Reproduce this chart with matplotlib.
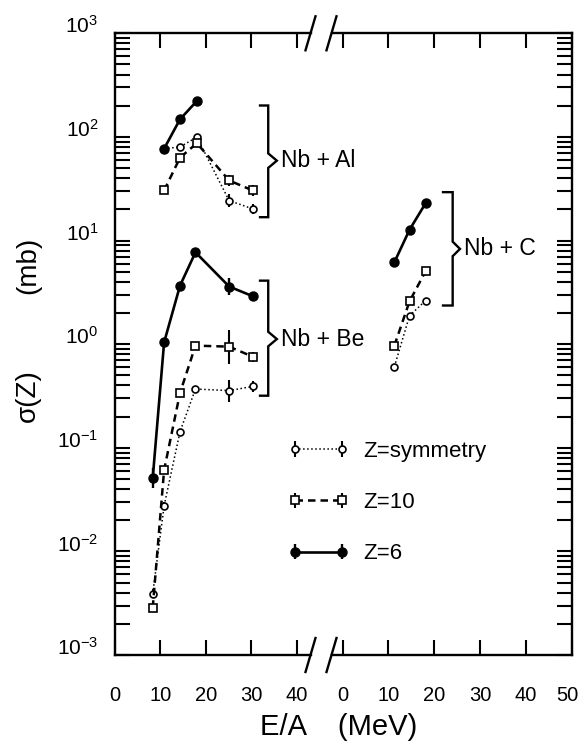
import numpy as np
import matplotlib
matplotlib.use("Agg")
import matplotlib.pyplot as plt
from matplotlib.lines import Line2D
from matplotlib.legend_handler import HandlerErrorbar
from matplotlib.container import ErrorbarContainer
from matplotlib.ticker import FixedLocator, LogLocator, NullFormatter
from matplotlib.transforms import ScaledTranslation

plt.rcParams['font.family'] = ['Liberation Sans', 'DejaVu Sans']
plt.rcParams['mathtext.fontset'] = 'custom'
plt.rcParams['mathtext.rm'] = 'Liberation Sans'

# Nb + Be (left energy scale)
e_be = [8.3, 10.8, 14.3, 17.7, 25.1, 30.3]
be_z6 = [0.051, 1.04, 3.67, 7.7, 3.6, 2.9]
be_z10 = [0.00286, 0.061, 0.338, 0.968, 0.946, 0.757]
be_sym = [0.0039, 0.0275, 0.143, 0.369, 0.356, 0.391]
be_z6_err = [1.25, 1.0, 1.0, 1.0, 1.21, 1.08]
be_z10_err = [1.0, 1.0, 1.0, 1.0, 1.46, 1.12]
be_sym_err = [1.1, 1.1, 1.06, 1.0, 1.28, 1.14]

# Nb + Al (left energy scale)
e_al = [10.8, 14.3, 18.0, 25.1, 30.3]
al_z6 = [77, 148, 222]
al_z10 = [30.4, 63, 87, 38, 30.4]
al_sym = [77, 80, 99.6, 24.3, 20.2]
al_z6_err = [1.0, 1.0, 1.0]
al_z10_err = [1.0, 1.0, 1.0, 1.14, 1.14]
al_sym_err = [1.0, 1.06, 1.0, 1.16, 1.12]

# Nb + C (right energy scale)
e_c = [11.3, 14.6, 18.1]
c_z6 = [6.17, 12.7, 22.9]
c_z10 = [0.968, 2.59, 5.05]
c_sym = [0.606, 1.88, 2.63]
c_z6_err = [1.0, 1.0, 1.0]
c_z10_err = [1.0, 1.0, 1.0]
c_sym_err = [1.0, 1.06, 1.0]

labels = ['Z=symmetry', 'Z=10', 'Z=6']

W, H = 582, 746


def fx(px):
    return px / W


def fy(py):
    return 1 - py / H


def asym(v, f):
    v = np.array(v, dtype=float)
    f = np.array(f, dtype=float)
    return [v - v / f, v * f - v]


st_sym = dict(marker='o', linestyle=':', color='black', lw=1.1, ms=5, mfc='white',
              mew=1.2, elinewidth=1.5, capsize=0, zorder=3)
st_z10 = dict(marker='s', linestyle=(0, (3, 2)), color='black', lw=1.8, ms=5.5, mfc='white',
              mew=1.2, elinewidth=1.5, capsize=0, zorder=4)
st_z6 = dict(marker='o', linestyle='-', color='black', lw=1.9, ms=6.5, mfc='black',
             elinewidth=1.7, capsize=0, zorder=5)

fig = plt.figure(figsize=(W / 100, H / 100), dpi=100)
ax1 = fig.add_axes([fx(115), fy(655), fx(310.5) - fx(115), (655 - 33.3) / H])
ax2 = fig.add_axes([fx(331.5), fy(655), fx(572) - fx(331.5), (655 - 33.3) / H], sharey=ax1)
ax2.set_facecolor('none')

for ax in (ax1, ax2):
    ax.set_yscale('log')
    ax.set_ylim(1e-3, 1e3)
    ax.yaxis.set_major_locator(FixedLocator(10.0 ** np.arange(-3, 4)))
    ax.yaxis.set_minor_locator(LogLocator(base=10, subs=np.arange(2, 10), numticks=20))
    ax.yaxis.set_minor_formatter(NullFormatter())
    ax.tick_params(which='both', direction='in', length=11, width=1.5, top=True, labelsize=15)
    ax.tick_params(axis='x', pad=22, labelsize=14.5)
    for s in ax.spines.values():
        s.set_linewidth(1.7)

ax1.set_xlim(0, 43)
ax1.set_xticks([0, 10, 20, 30, 40])
ax1.tick_params(axis='y', which='both', left=True, right=False, pad=12)
ax1.spines['right'].set_visible(False)

ax2.set_xlim(-2.4, 50)
ax2.set_xticks([0, 10, 20, 30, 40, 50])
ax2.tick_params(axis='y', which='both', left=False, right=True, labelleft=False)
ax2.spines['left'].set_visible(False)

# Nb + Be
h_sym = ax1.errorbar(e_be, be_sym, yerr=asym(be_sym, be_sym_err), **st_sym)
h_z10 = ax1.errorbar(e_be, be_z10, yerr=asym(be_z10, be_z10_err), **st_z10)
h_z6 = ax1.errorbar(e_be, be_z6, yerr=asym(be_z6, be_z6_err), **st_z6)

# Nb + Al
ax1.errorbar(e_al, al_sym, yerr=asym(al_sym, al_sym_err), **st_sym)
ax1.errorbar(e_al, al_z10, yerr=asym(al_z10, al_z10_err), **st_z10)
ax1.errorbar(e_al[:3], al_z6, yerr=asym(al_z6, al_z6_err), **st_z6)

# Nb + C
ax2.errorbar(e_c, c_sym, yerr=asym(c_sym, c_sym_err), **st_sym)
ax2.errorbar(e_c, c_z10, yerr=asym(c_z10, c_z10_err), **st_z10)
ax2.errorbar(e_c, c_z6, yerr=asym(c_z6, c_z6_err), **st_z6)


def bracket(ax, xs, xl, xt, ytop, ymid, ybot, text):
    k = 10 ** 0.07
    xx = [xs, xl, xl, xt, xl, xl, xs]
    yy = [ytop, ytop, ymid * k, ymid, ymid / k, ybot, ybot]
    ax.plot(xx, yy, color='black', lw=1.7, solid_joinstyle='miter')
    ax.text(xt + 0.9, ymid, text, fontsize=16.5, ha='left', va='center', clip_on=False)


bracket(ax1, 31.9, 33.7, 35.6, 201, 59, 16.8, 'Nb + Al')
bracket(ax1, 31.9, 33.7, 35.6, 4.1, 1.12, 0.318, 'Nb + Be')
bracket(ax2, 21.9, 24.0, 25.6, 29.3, 8.3, 2.36, 'Nb + C')

plt.setp(ax1.get_yticklabels(), va='baseline')

# keep the last tick label inside the figure edge
last = ax2.get_xticklabels()[-1]
last.set_transform(last.get_transform() + ScaledTranslation(-0.045, 0, fig.dpi_scale_trans))

# axis break marks
for xc in (310.5, 331.5):
    for yc in (33.3, 655):
        fig.add_artist(Line2D([fx(xc - 5), fx(xc + 5)], [fy(yc + 17), fy(yc - 17)],
                              transform=fig.transFigure, color='black', lw=1.7))

fig.legend([h_sym, h_z10, h_z6], labels, loc='upper left',
           bbox_to_anchor=(fx(295), fy(441)), frameon=False, fontsize=16,
           numpoints=2, handlelength=2.1, handletextpad=0.96, labelspacing=1.36,
           borderpad=0, borderaxespad=0,
           handler_map={ErrorbarContainer: HandlerErrorbar(marker_pad=0, yerr_size=0.35)})

fig.text(fx(28), fy(265), '(mb)', rotation=90, fontsize=20, ha='center', va='center')
fig.text(fx(28), fy(396), 'σ(Z)', rotation=90, fontsize=20, ha='center', va='center')
fig.text(fx(339), fy(727), 'E/A    (MeV)', fontsize=21, ha='center', va='center')

fig.savefig('out.png', dpi=100)
